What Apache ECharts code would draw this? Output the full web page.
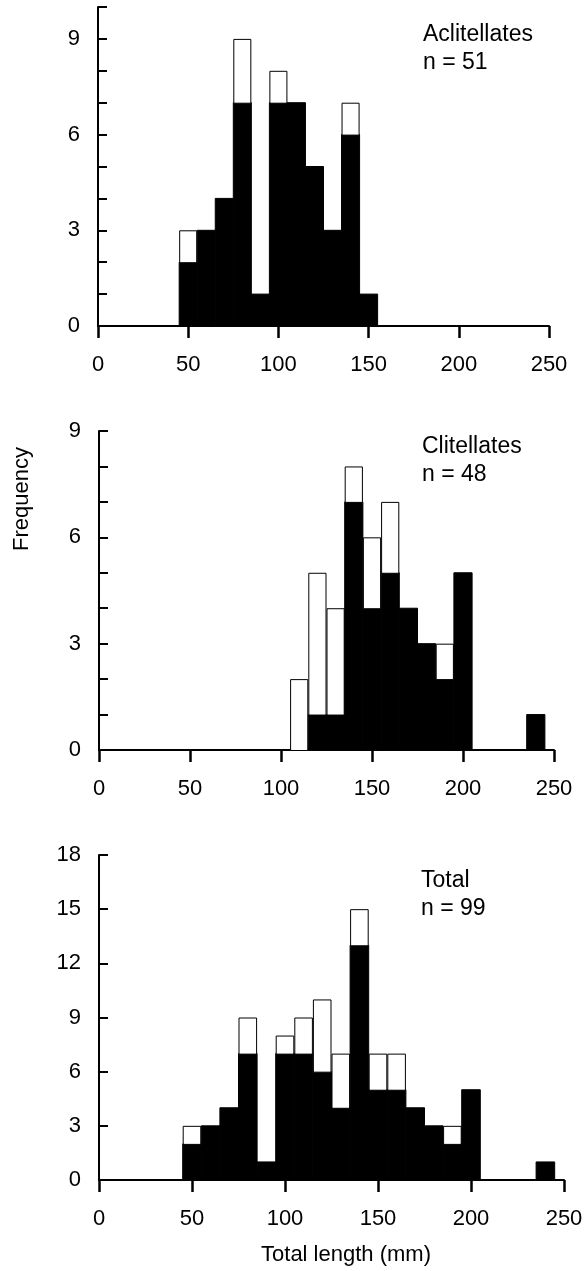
<!DOCTYPE html>
<html>
<head>
<meta charset="utf-8">
<script src="https://cdn.jsdelivr.net/npm/echarts@6/dist/echarts.min.js"></script>
<style>
html,body{margin:0;padding:0;background:#fff;}
#chart{width:586px;height:1271px;}
</style>
</head>
<body>
<div id="chart"></div>
<script>
// Bin centres (mm), bin width 10
const binCentres = [50,60,70,80,90,100,110,120,130,140,150,160,170,180,190,200,210,220,230,240];
// Aclitellates: filled (black) and open (white, stacked on top)
const aclFilled = [2,3,4,7,1,7,7,5,3,6,1,0,0,0,0,0,0,0,0,0];
const aclOpen   = [1,0,0,2,0,1,0,0,0,1,0,0,0,0,0,0,0,0,0,0];
// Clitellates
const cliFilled = [0,0,0,0,0,0,0,1,1,7,4,5,4,3,2,5,0,0,0,1];
const cliOpen   = [0,0,0,0,0,0,2,4,3,1,2,2,0,0,1,0,0,0,0,0];
// Total
const totFilled = [2,3,4,7,1,7,7,6,4,13,5,5,4,3,2,5,0,0,0,1];
const totOpen   = [1,0,0,2,0,1,2,4,3,2,2,2,0,0,1,0,0,0,0,0];

const xTicks = [0,50,100,150,200,250];
const panelLabels = [["Aclitellates","n = 51"],["Clitellates","n = 48"],["Total","n = 99"]];
const yMax = [10,9,18];
const yStep = [1,1,3];

const FONT = '"Liberation Sans", Arial, Helvetica, sans-serif';
const FS = 22;
const FA = 23;

const grids = [
  {left:98, width:451, top:7, height:319},
  {left:99, width:455, top:431, height:319},
  {left:99, width:465, top:855, height:325}
];

function makeData(filled, open){
  return binCentres.map((c,i)=>[c, filled[i], open[i]]).filter(d=>d[1]+d[2]>0);
}

function renderItem(params, api){
  const x = api.value(0), b = api.value(1), w = api.value(2);
  const pL = api.coord([x-5, 0]);
  const pB = api.coord([x+5, b]);
  const pT = api.coord([x+5, b+w]);
  const children = [];
  if (b > 0) {
    children.push({type:'rect', shape:{x:pL[0], y:pB[1], width:pB[0]-pL[0], height:pL[1]-pB[1]},
      style:{fill:'#000', stroke:'#000', lineWidth:1}});
  }
  if (w > 0) {
    children.push({type:'rect', shape:{x:pL[0]+0.5, y:pT[1]+0.5, width:pT[0]-pL[0]-1, height:pB[1]-pT[1]},
      style:{fill:'#fff', stroke:'#000', lineWidth:1}});
  }
  return {type:'group', children};
}

const datasets = [[aclFilled,aclOpen],[cliFilled,cliOpen],[totFilled,totOpen]];

const option = {
  animation:false,
  backgroundColor:'#fff',
  grid: grids.map(g=>Object.assign({containLabel:false}, g)),
  xAxis: grids.map((g,i)=>({
    type:'value', gridIndex:i, min:0, max:250, interval:50,
    axisLine:{show:true, onZero:false, lineStyle:{color:'#000', width:2}},
    axisTick:{show:true, inside:false, length:12, lineStyle:{color:'#000', width:2.5}},
    axisLabel:{show:true, margin:28, color:'#000', fontSize:FS, fontFamily:FONT,
      formatter:v=> xTicks.includes(v) ? String(v) : ''},
    splitLine:{show:false}
  })),
  yAxis: grids.map((g,i)=>({
    type:'value', gridIndex:i, min:0, max:yMax[i], interval:yStep[i],
    axisLine:{show:true, lineStyle:{color:'#000', width:2}},
    axisTick:{show:true, inside:true, length:9, lineStyle:{color:'#000', width:2}},
    axisLabel:{show:true, margin:18, color:'#000', fontSize:FS, fontFamily:FONT,
      formatter:v=> (v % 3 === 0) ? String(v) : ''},
    splitLine:{show:false}
  })),
  series: datasets.map((d,i)=>({
    type:'custom', xAxisIndex:i, yAxisIndex:i,
    renderItem, data: makeData(d[0], d[1]), z:1
  })),
  graphic: [
    {type:'text', left:423, top:23, style:{text:panelLabels[0][0], font:FA+'px '+FONT, fill:'#000'}},
    {type:'text', left:423, top:51, style:{text:panelLabels[0][1], font:FA+'px '+FONT, fill:'#000'}},
    {type:'text', left:422, top:435, style:{text:panelLabels[1][0], font:FA+'px '+FONT, fill:'#000'}},
    {type:'text', left:422, top:463, style:{text:panelLabels[1][1], font:FA+'px '+FONT, fill:'#000'}},
    {type:'text', left:421, top:869, style:{text:panelLabels[2][0], font:FA+'px '+FONT, fill:'#000'}},
    {type:'text', left:421, top:897, style:{text:panelLabels[2][1], font:FA+'px '+FONT, fill:'#000'}},
    {type:'text', x:22, y:499, rotation:Math.PI/2,
      style:{text:'Frequency', font:FS+'px '+FONT, fill:'#000', align:'center', verticalAlign:'middle'}},
    {type:'text', x:346, y:1255,
      style:{text:'Total length (mm)', font:FS+'px '+FONT, fill:'#000', align:'center', verticalAlign:'middle'}}
  ]
};

const chart = echarts.init(document.getElementById('chart'), null, {renderer:'canvas'});
chart.setOption(option);
</script>
</body>
</html>
